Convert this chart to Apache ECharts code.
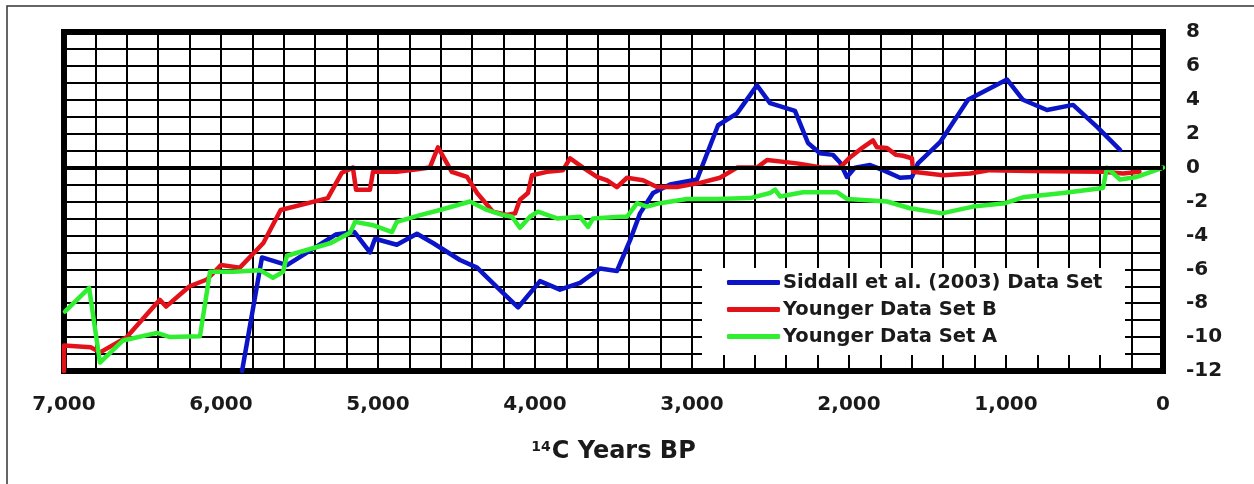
<!DOCTYPE html>
<html>
<head>
<meta charset="utf-8">
<title>14C Years BP</title>
<script src="https://cdn.jsdelivr.net/npm/echarts@6/dist/echarts.min.js"></script>
<style>
  html, body { margin: 0; padding: 0; background: #fff; }
  #chart { width: 1254px; height: 484px; }
</style>
</head>
<body>
<div id="chart"></div>
<script>
// ── Data ──────────────────────────────────────────────────────────────────────
// Years are 14C years BP, values on the right-hand axis.

const siddallYears = [5866, 5739, 5580, 5270, 5150, 5051, 5019, 4880, 4752, 4650, 4478, 4369,
  4242, 4108, 3968, 3841, 3713, 3586, 3478, 3395, 3331, 3248, 3140, 2968, 2834, 2713, 2586,
  2503, 2344, 2261, 2185, 2102, 2057, 2013, 1962, 1866, 1783, 1675, 1599, 1561, 1420, 1242,
  994, 892, 739, 573, 420, 274];
const siddallValues = [-12, -5.3, -5.75, -3.95, -3.8, -5.0, -4.2, -4.55, -3.9, -4.45, -5.45, -5.9,
  -7.05, -8.25, -6.7, -7.2, -6.8, -5.95, -6.1, -4.3, -2.7, -1.5, -1.0, -0.7, 2.5, 3.2, 4.85,
  3.8, 3.35, 1.45, 0.85, 0.75, 0.3, -0.55, 0, 0.15, -0.15, -0.6, -0.55, 0.25, 1.5, 4.0,
  5.2, 4.0, 3.4, 3.7, 2.4, 1.05];

const setBYears = [7000, 7000, 6830, 6770, 6600, 6390, 6350, 6200, 6090, 6000, 5880, 5730, 5620,
  5320, 5230, 5160, 5140, 5051, 5032, 4880, 4750, 4670, 4618, 4530, 4433, 4369, 4268, 4178,
  4127, 4096, 4045, 4019, 3924, 3822, 3777, 3694, 3605, 3541, 3478, 3414, 3312, 3223, 3096,
  2949, 2822, 2713, 2586, 2522, 2331, 2166, 2057, 1994, 1911, 1847, 1822, 1758, 1700, 1656,
  1599, 1592, 1401, 1229, 1102, 847, 382, 255, 150];
const setBValues = [-12, -10.5, -10.6, -10.9, -10.0, -7.8, -8.2, -7.0, -6.6, -5.75, -5.9, -4.45, -2.5,
  -1.8, -0.3, 0, -1.3, -1.3, -0.25, -0.25, -0.1, 0, 1.2, -0.25, -0.55, -1.5, -2.6, -2.8,
  -2.7, -1.9, -1.5, -0.45, -0.25, -0.15, 0.55, 0, -0.55, -0.75, -1.15, -0.6, -0.75, -1.15, -1.15,
  -0.9, -0.6, 0, 0, 0.45, 0.25, 0, 0, 0.6, 1.2, 1.6, 1.2, 1.15, 0.75, 0.7,
  0.55, -0.25, -0.45, -0.35, -0.15, -0.2, -0.25, -0.35, -0.25];

const setAYears = [6994, 6840, 6771, 6624, 6408, 6325, 6134, 6070, 5924, 5752, 5669, 5605, 5580,
  5300, 5178, 5146, 5032, 4911, 4880, 4732, 4605, 4414, 4306, 4204, 4146, 4096, 4032, 3981,
  3860, 3713, 3662, 3630, 3459, 3414, 3350, 3287, 3204, 3032, 2841, 2631, 2503, 2471, 2439,
  2293, 2076, 2013, 1758, 1611, 1408, 1210, 1006, 892, 637, 382, 357, 274, 166, 0];
const setAValues = [-8.5, -7.1, -11.5, -10.2, -9.75, -10.0, -9.95, -6.15, -6.15, -6.05, -6.5, -6.15, -5.2,
  -4.45, -3.85, -3.2, -3.4, -3.8, -3.2, -2.8, -2.5, -2.0, -2.5, -2.8, -2.9, -3.55, -2.9, -2.6,
  -3.0, -2.9, -3.5, -3.0, -2.9, -2.9, -2.1, -2.3, -2.1, -1.85, -1.85, -1.8, -1.5, -1.3, -1.7,
  -1.45, -1.45, -1.85, -2.0, -2.4, -2.7, -2.3, -2.1, -1.75, -1.5, -1.2, 0, -0.7, -0.55, 0];

const seriesNames = ['Siddall et al. (2003) Data Set', 'Younger Data Set B', 'Younger Data Set A'];
const seriesColors = ['#0c14c8', '#e3121a', '#30ee30'];

const xTickStep = 200;     // grid every 200 yr, labels every 1000
const xLabelStep = 1000;
const yTickStep = 1;       // grid every unit, labels every 2
const yLabelStep = 2;
const zeroLine = 0;

// ── Helpers ───────────────────────────────────────────────────────────────────

const zip = (xs, ys) => xs.map((x, i) => [x, ys[i]]);
const FONT = 'DejaVu Sans';

function lineSeries(name, color, years, values, extra) {
  return Object.assign({
    name,
    type: 'line',
    data: zip(years, values),
    symbol: 'none',
    smooth: false,
    lineStyle: { color, width: 4.5, cap: 'round', join: 'round' },
    itemStyle: { color },
    animation: false,
  }, extra || {});
}

// ── Chart ─────────────────────────────────────────────────────────────────────

const chart = echarts.init(document.getElementById('chart'), null, { renderer: 'canvas' });

chart.setOption({
  backgroundColor: '#fff',
  animation: false,
  grid: {
    left: 64, right: 91, top: 32, bottom: 113,
    show: true,
    backgroundColor: '#fff',
    borderColor: '#000',
    borderWidth: 6,
  },
  xAxis: {
    type: 'value',
    inverse: true,
    min: 0,
    max: 7000,
    interval: xTickStep,
    axisLine: { show: false },
    axisTick: { show: false },
    splitLine: { show: true, lineStyle: { color: '#000', width: 2 } },
    axisLabel: {
      margin: 24,
      color: '#1a1a1a',
      fontFamily: FONT,
      fontWeight: 'bold',
      fontSize: 20,
      formatter: v => (v % xLabelStep === 0 ? v.toLocaleString('en-US') : ''),
    },
    name: '{sup|14}{b|C Years BP}',
    nameLocation: 'middle',
    nameGap: 69,
    nameTextStyle: {
      rich: {
        sup: { fontFamily: FONT, fontWeight: 'bold', fontSize: 14, color: '#1a1a1a', verticalAlign: 'top', padding: [0, 1, 9, 0] },
        b: { fontFamily: FONT, fontWeight: 'bold', fontSize: 24, color: '#1a1a1a' },
      },
    },
  },
  yAxis: {
    type: 'value',
    position: 'right',
    min: -12,
    max: 8,
    interval: yTickStep,
    axisLine: { show: false },
    axisTick: { show: false },
    splitLine: { show: true, lineStyle: { color: '#000', width: 2 } },
    axisLabel: {
      margin: 23,
      color: '#1a1a1a',
      fontFamily: FONT,
      fontWeight: 'bold',
      fontSize: 20,
      formatter: v => (v % yLabelStep === 0 ? String(v) : ''),
    },
  },
  legend: {
    data: seriesNames,
    orient: 'vertical',
    left: 727,
    top: 272,
    padding: 0,
    itemGap: 6,
    itemWidth: 53,
    itemHeight: 5,
    icon: 'roundRect',
    z: 10,
    textStyle: {
      fontFamily: FONT,
      fontWeight: 'bold',
      fontSize: 19.5,
      lineHeight: 21,
      color: '#1a1a1a',
      padding: [0, 0, 0, -2],
    },
  },
  graphic: [
    // outer frame of the figure
    { type: 'rect', shape: { x: 7, y: 6, width: 1270, height: 500 }, style: { fill: 'none', stroke: '#333', lineWidth: 1.5 }, z: 0, silent: true },
    // white legend panel that blanks the grid behind it
    { type: 'rect', shape: { x: 702, y: 268, width: 423, height: 87 }, style: { fill: '#fff' }, z: 5, silent: true },
  ],
  series: [
    lineSeries(seriesNames[0], seriesColors[0], siddallYears, siddallValues),
    lineSeries(seriesNames[1], seriesColors[1], setBYears, setBValues, {
      markLine: {
        silent: true,
        symbol: ['none', 'none'],
        label: { show: false },
        lineStyle: { color: '#000', width: 4, type: 'solid' },
        data: [{ yAxis: zeroLine }],
      },
    }),
    lineSeries(seriesNames[2], seriesColors[2], setAYears, setAValues),
  ],
});
</script>
</body>
</html>
